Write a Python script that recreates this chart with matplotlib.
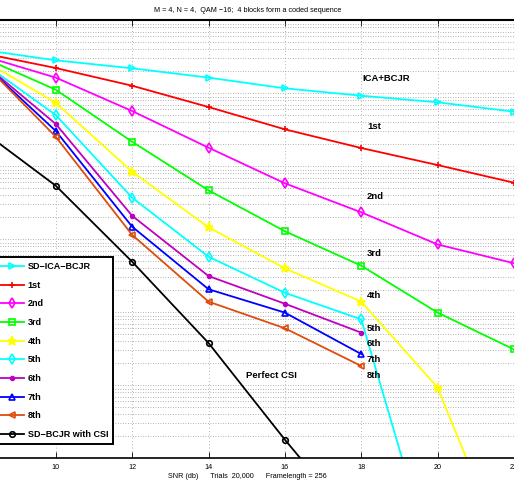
import matplotlib
matplotlib.use("Agg")
import matplotlib.pyplot as plt
import numpy as np

plt.rcParams['font.family'] = ['Liberation Sans', 'DejaVu Sans']

# ---------------- data ----------------
snr = [8, 10, 12, 14, 16, 18, 20, 22]
ica_bcjr = [0.40, 0.283, 0.220, 0.164, 0.117, 0.0927, 0.0753, 0.056]
iter1 = [0.362, 0.222, 0.127, 0.0649, 0.0321, 0.0178, 0.0104, 0.00596]
iter2 = [0.337, 0.164, 0.0572, 0.0180, 0.00585, 0.00234, 8.5e-4, 4.7e-4]
iter3 = [0.325, 0.112, 0.0217, 0.00469, 0.00129, 4.35e-4, 9.9e-5, 3.1e-5]
iter4 = [0.305, 0.0743, 0.00843, 0.00146, 4.0e-4, 1.40e-4, 9.3e-6, 2.5e-8]
snr5 = [8, 10, 12, 14, 16, 18, 20]
iter5 = [0.284, 0.0504, 0.00372, 5.78e-4, 1.85e-4, 8.0e-5, 2.2e-8]
snr68 = [8, 10, 12, 14, 16, 18]
iter6 = [0.286, 0.038, 0.0021, 3.14e-4, 1.31e-4, 5.26e-5]
iter7 = [0.286, 0.0305, 0.00149, 2.07e-4, 9.9e-5, 2.68e-5]
iter8 = [0.295, 0.0254, 0.00115, 1.40e-4, 6.04e-5, 1.84e-5]
csi = [0.0328, 0.00542, 4.93e-4, 3.8e-5, 1.8e-6, 1.0e-7]

legend_labels = ['SD\u2212ICA\u2212BCJR', '1st', '2nd', '3rd', '4th', '5th',
                 '6th', '7th', '8th', 'SD\u2212BCJR with CSI']
xticks = [10, 12, 14, 16, 18, 20, 22]

title = 'M = 4, N = 4,  QAM \u221216;  4 blocks form a coded sequence'
xlabel = 'SNR (db)      Trials  20,000      Framelength = 256'

# ---------------- figure ----------------
W, H = 514, 484
fig = plt.figure(figsize=(W / 100, H / 100), dpi=100)
ax = fig.add_axes([0.0, 1 - 458.3 / H, 1.0, (458.3 - 20.3) / H])
ax.set_yscale('log')
ax.set_xlim(8.54, 21.96)
ax.set_ylim(1e-6, 1)

lw = 1.3
series = [
    (snr, ica_bcjr, (0, 1, 1), '>', 5),
    (snr, iter1, (1, 0, 0), '+', 5),
    (snr, iter2, (1, 0, 1), 'd', 5),
    (snr, iter3, (0, 1, 0), 's', 4),
    (snr, iter4, (1, 1, 0), '*', 6.5),
    (snr5, iter5, (0, 1, 1), 'd', 5),
    (snr68, iter6, (0.75, 0, 0.75), '.', 5.5),
    (snr68, iter7, (0, 0, 1), '^', 5),
    (snr68, iter8, (0.87, 0.3, 0.05), '<', 5),
    (snr68, csi, (0, 0, 0), 'o', 4),
]
handles = []
for (xs, ys, c, m, ms), lab in zip(series, legend_labels):
    fc = c if m in ('.', '*') else 'none'
    h, = ax.plot(xs, ys, color=c, lw=lw, marker=m, ms=ms, mfc=fc, mec=c,
                 mew=1.2, label=lab, clip_on=True)
    handles.append(h)

# grid (MATLAB style dotted)
ax.set_xticks(xticks)
ax.grid(True, which='major', axis='x', ls=(0, (1, 3)), lw=0.6, color='0.6')
ax.grid(True, which='both', axis='y', ls=(0, (1, 2)), lw=0.6, color='0.6')
ax.tick_params(axis='y', which='both', left=False, right=False,
               labelleft=False)
ax.tick_params(axis='x', which='both', direction='in', top=True,
               length=4, width=0.6, labelsize=5.2, pad=4)
ax.xaxis.set_minor_locator(matplotlib.ticker.NullLocator())
ax.spines['left'].set_visible(False)
ax.spines['right'].set_visible(False)
ax.spines['top'].set_linewidth(1.5)
ax.spines['bottom'].set_linewidth(1.2)

# annotations
def px2data(px, py):
    x = 8.54 + px / 38.3
    y = 10 ** (-(py - 20.3) / 73.0)
    return x, y

tk = dict(fontsize=6.8, fontweight='bold', va='center', ha='left')
for txt, (px, py) in [('ICA+BCJR', (363, 78.3)), ('1st', (368, 126.7)),
                      ('2nd', (368, 196.7)), ('3rd', (368, 253.3)),
                      ('4th', (368, 295)), ('5th', (368, 328.3)),
                      ('6th', (368, 343.3)), ('7th', (368, 359.3)),
                      ('8th', (368, 375))]:
    ax.text(*px2data(px, py), txt, **tk)
ax.text(*px2data(272.5, 375.3), 'Perfect CSI', fontsize=6.8,
        fontweight='bold', va='center', ha='center')

# legend
leg = ax.legend(handles=handles, loc='upper left',
                bbox_to_anchor=(-5 / W, 1 - (256.7 - 20.3) / 438.0),
                prop={'size': 6.5, 'weight': 'bold'}, frameon=True,
                fancybox=False, edgecolor='black', framealpha=1,
                handlelength=2.6, handletextpad=0.4, labelspacing=1.07,
                borderpad=0.6, borderaxespad=0)
leg.get_frame().set_linewidth(1.4)

fig.text(247.5 / W, 1 - 11 / H, title, fontsize=5.2, ha='center',
         va='center')
fig.text(247.5 / W, 1 - 477 / H, xlabel, fontsize=5.2, ha='center',
         va='center')

fig.savefig('out.png', dpi=100)
